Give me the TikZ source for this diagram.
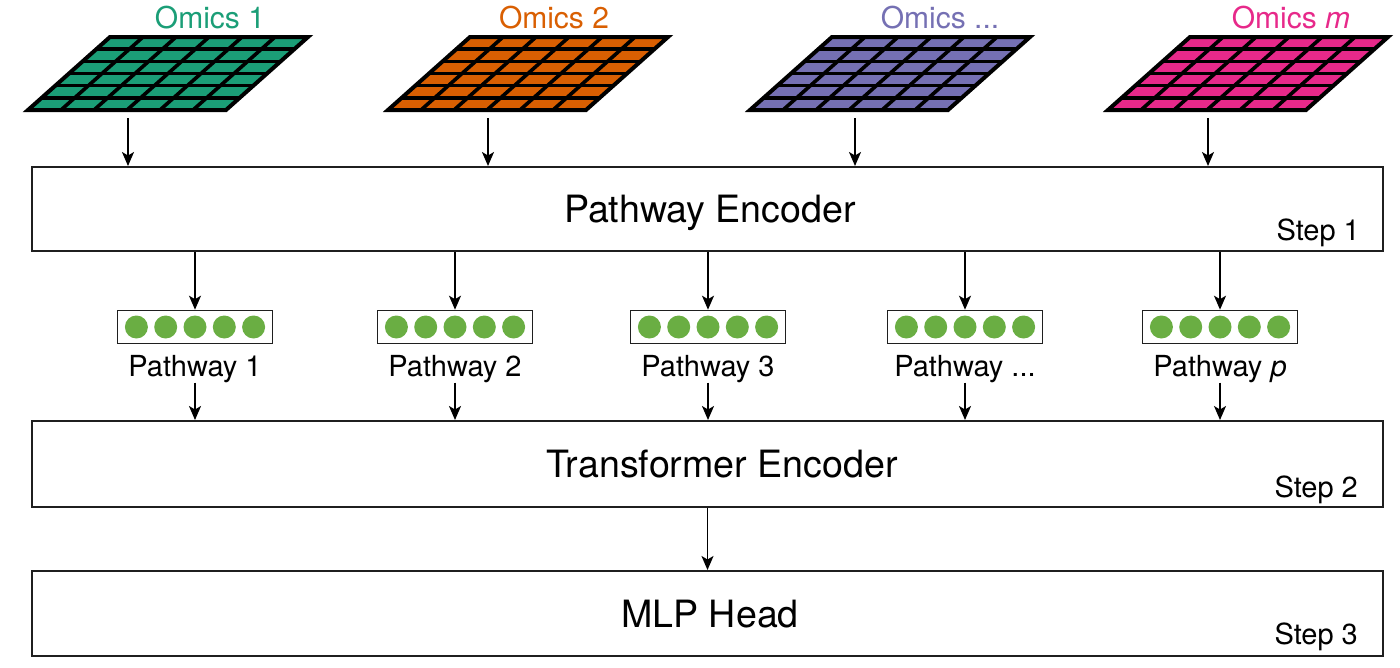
\documentclass[tikz,border=0pt]{standalone}
\usepackage{fontspec}
\setmainfont{TeX Gyre Heros}
\usetikzlibrary{arrows.meta}
\definecolor{omA}{HTML}{1B9E77}
\definecolor{omB}{HTML}{D95F02}
\definecolor{omC}{HTML}{7570B3}
\definecolor{omD}{HTML}{E7298A}
\definecolor{dotgreen}{HTML}{6AAE43}
\begin{document}
\begin{tikzpicture}[x=1pt,y=-1pt,
  box/.style={draw=black!88, line width=2pt, minimum width=1351pt, inner sep=0},
  arr/.style={line width=1.6pt, -{Stealth[length=14pt,width=12pt,inset=3.5pt]}},
  big/.style={font=\fontsize{37.6}{40}\selectfont, anchor=base, inner sep=0},
  small/.style={font=\fontsize{29}{32}\selectfont, anchor=base, inner sep=0},
  omics/.style={font=\fontsize{30}{33}\selectfont, anchor=base, inner sep=0},
  pbox/.style={draw=black!88, line width=1.6pt, minimum width=155pt, minimum height=33pt, inner sep=0},
  dot/.style={circle, fill=dotgreen, minimum size=23pt, inner sep=0},
  gridline/.style={line width=3.6pt, black, line join=miter}]
\useasboundingbox (0,0) rectangle (1400,667);

% boxes
\node[box, minimum height=84pt] (enc) at (707.5,209) {};
\node[box, minimum height=86pt] (tra) at (707.5,464) {};
\node[box, minimum height=85pt] (mlp) at (707.5,613.5) {};

\node[big] (encT) at (710,222) {Pathway Encoder};
\node[big] (traT) at (722,477) {Transformer Encoder};
\node[big] (mlpT) at (710,627) {MLP Head};
\node[small, anchor=base east] (s1) at (1360,240) {Step 1};
\node[small, anchor=base east] (s2) at (1358,497) {Step 2};
\node[small, anchor=base east] (s3) at (1358,644) {Step 3};

% omics grids
\foreach \bx/\col/\ax/\i in {28/omA/128/1, 388/omB/488/2, 750/omC/855/3, 1108/omD/1208/4} {
  \fill[\col] (\bx,110) -- ++(198,0) -- ++(82,-73) -- ++(-198,0) -- cycle;
  \foreach \r in {1,...,5} \draw[gridline] (\bx+\r*82/6, 110-\r*73/6) -- ++(198,0);
  \foreach \c in {1,...,5} \draw[gridline] (\bx+\c*198/6, 110) -- ++(82,-73);
  \draw[gridline, line width=4pt] (\bx,110) -- ++(198,0) -- ++(82,-73) -- ++(-198,0) -- cycle;
  \coordinate (g\i) at (\ax,118);
  \draw[arr] (g\i) -- (g\i |- enc.north);
}

\node[omics, text=omA] (o1) at (210,28) {Omics 1};
\node[omics, text=omB] (o2) at (554,28) {Omics 2};
\node[omics, text=omC] (o3) at (940,28) {Omics ...};
\node[omics, text=omD] (o4) at (1291,28) {Omics \textit{m}};

% pathways
\foreach \x/\n/\lab in {195/1/{Pathway 1}, 455/2/{Pathway 2}, 708/3/{Pathway 3}, 965/4/{Pathway ...}, 1220/5/{Pathway \textit{p}}} {
  \node[pbox] (p\n) at (\x,327) {};
  \foreach \k in {-2,...,2} \node[dot] (p\n d\k) at ([xshift=\k*29.3pt]p\n.center) {};
  \node[small] (pl\n) at (\x,376) {\lab};
  \draw[arr] (enc.south -| p\n.north) -- (p\n.north);
  \draw[arr] (pl\n.south) -- (pl\n.south |- tra.north);
}

\draw[arr] (tra) -- (mlp);
\end{tikzpicture}
\end{document}
